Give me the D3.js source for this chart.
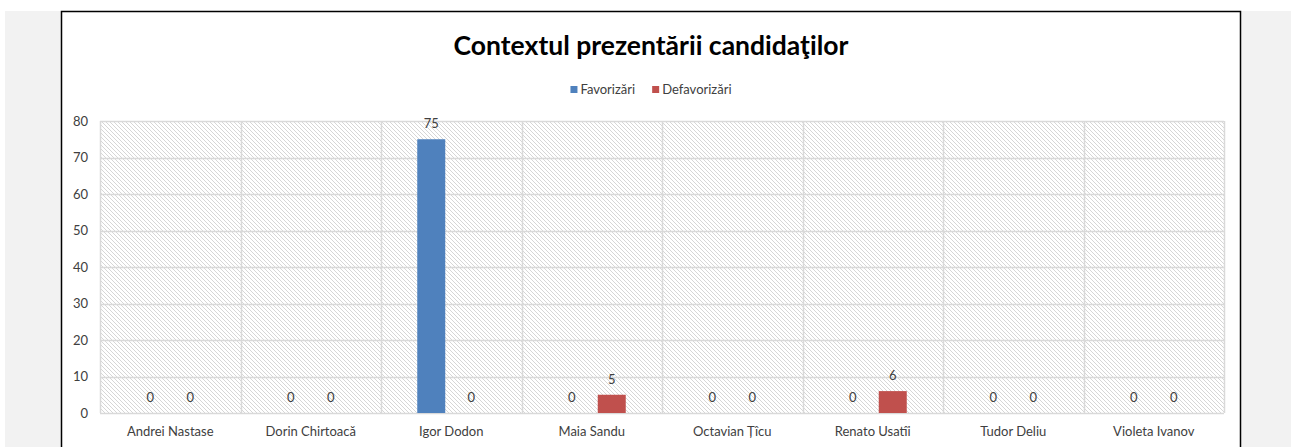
<!DOCTYPE html>
<html><head><meta charset="utf-8">
<script src="https://cdn.jsdelivr.net/npm/d3@7"></script>
<style>
html,body{margin:0;padding:0;background:#fff;}
svg{display:block;font-family:Lato,"Open Sans",sans-serif;}
</style></head>
<body><svg id="c" width="1291" height="447"></svg>
<script>
const categories = ["Andrei Nastase","Dorin Chirtoacă","Igor Dodon","Maia Sandu","Octavian Țîcu","Renato Usatîi","Tudor Deliu","Violeta Ivanov"];
const seriesNames = ["Favorizări","Defavorizări"];
const favorizari = [0,0,75,0,0,0,0,0];
const defavorizari = [0,0,0,5,0,6,0,0];
const yTicks = [0,10,20,30,40,50,60,70,80];
const colors = ["#4f81bd","#c0504d"];
const seriesValues = [favorizari, defavorizari];

const svg = d3.select("#c");
svg.append("rect").attr("x",5).attr("y",11).attr("width",1286).attr("height",436).attr("fill","#f2f2f2");
svg.append("rect").attr("x",61.5).attr("y",11.5).attr("width",1179).attr("height",450).attr("fill","#fff").attr("stroke","#000").attr("stroke-width",1.5);

const defs = svg.append("defs");
const pat = defs.append("pattern").attr("id","hatch").attr("patternUnits","userSpaceOnUse")
  .attr("width",4).attr("height",4);
pat.append("rect").attr("width",4).attr("height",4).attr("fill","#fff");
pat.append("path").attr("d","M-1,-1 L5,5 M-1,3 L1,5 M3,-1 L5,1").attr("stroke","#d6d6d6").attr("stroke-width",1);

const m = {left:100, right:1224, top:121, bottom:413};
const x0 = d3.scaleBand().domain(categories).range([m.left, m.right]).padding(0);
const bw = x0.bandwidth();
const x1 = d3.scaleBand().domain(d3.range(seriesNames.length)).range([bw/2-34, bw/2+34]).paddingInner(0.3);
const y = d3.scaleLinear().domain([0,80]).range([m.bottom, m.top]);

svg.append("rect").attr("x",m.left).attr("y",m.top).attr("width",m.right-m.left).attr("height",m.bottom-m.top).attr("fill","url(#hatch)");

svg.append("g").selectAll("line").data(yTicks).join("line")
  .attr("x1",m.left).attr("x2",m.right).attr("y1",d=>Math.round(y(d))+0.5).attr("y2",d=>Math.round(y(d))+0.5)
  .attr("stroke","#d9d9d9").attr("stroke-width",1.5);
const vlines = categories.map(c=>x0(c)).concat([m.right]);
svg.append("g").selectAll("line").data(vlines).join("line")
  .attr("x1",d=>Math.round(d)+0.5).attr("x2",d=>Math.round(d)+0.5).attr("y1",m.top).attr("y2",m.bottom)
  .attr("stroke","#d9d9d9").attr("stroke-width",1.5);

const yAxis = d3.axisLeft(y).tickValues(yTicks).tickSize(0).tickPadding(12);
const ga = svg.append("g").attr("transform",`translate(${m.left},0)`).call(yAxis);
ga.select(".domain").remove();
ga.selectAll("text").attr("font-size",13).attr("fill","#404040").attr("font-family","Lato,sans-serif");

const xAxis = d3.axisBottom(x0).tickSize(0).tickPadding(14);
const gx = svg.append("g").attr("transform",`translate(0,${m.bottom})`).call(xAxis);
gx.select(".domain").remove();
gx.selectAll("text").attr("font-size",13).attr("fill","#404040").attr("font-family","Lato,sans-serif");

const groups = svg.append("g").selectAll("g").data(categories).join("g")
  .attr("transform",c=>`translate(${x0(c)},0)`);
groups.selectAll("rect").data((c,i)=>seriesValues.map((s,k)=>({k, v:s[i]}))).join("rect")
  .attr("x",d=>x1(d.k)).attr("width",x1.bandwidth())
  .attr("y",d=>y(d.v)).attr("height",d=>y(0)-y(d.v))
  .attr("fill",d=>colors[d.k]);
groups.selectAll("text").data((c,i)=>seriesValues.map((s,k)=>({k, v:s[i]}))).join("text")
  .attr("x",d=>x1(d.k)+x1.bandwidth()/2).attr("y",d=>y(d.v)-11)
  .attr("text-anchor","middle").attr("font-size",13).attr("fill","#404040")
  .text(d=>d.v);

svg.append("text").attr("x",651).attr("y",55).attr("text-anchor","middle")
  .attr("font-size",26.5).attr("font-weight","bold").attr("fill","#000")
  .text("Contextul prezentării candidaţilor");

// legend, centered
const leg = svg.append("g");
let cx = 0;
const items = [];
seriesNames.forEach((n,i)=>{
  const g = leg.append("g").attr("transform",`translate(${cx},0)`);
  g.append("rect").attr("x",0).attr("y",86).attr("width",7).attr("height",7).attr("fill",colors[i]);
  const t = g.append("text").attr("x",10).attr("y",93.5).attr("font-size",13).attr("fill","#404040").text(n);
  cx += 10 + t.node().getComputedTextLength() + (i < seriesNames.length-1 ? 17 : 0);
});
leg.attr("transform",`translate(${651 - cx/2},0)`);
</script></body></html>
